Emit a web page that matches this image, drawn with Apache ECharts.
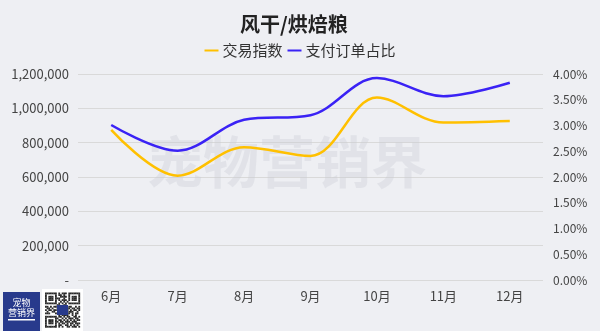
<!DOCTYPE html>
<html>
<head>
<meta charset="utf-8">
<script src="https://cdn.jsdelivr.net/npm/echarts@6/dist/echarts.min.js"></script>
<style>
  html, body { margin: 0; padding: 0; background: #eeeff3; }
  #chart { width: 600px; height: 331px; }
</style>
</head>
<body>
<div id="chart"></div>
<script>
// Monthly data for dried / baked pet food
const months = ['6月', '7月', '8月', '9月', '10月', '11月', '12月'];
const tradeIndex = [875000, 608000, 774000, 723000, 1063000, 917000, 926000];
const payShare = [0.0301, 0.0251, 0.0311, 0.0320, 0.0392, 0.0357, 0.0383];
const leftTicks = { min: 0, max: 1200000, interval: 200000 };
const rightTicks = { min: 0, max: 0.04, interval: 0.005 };

// Small QR-style badge pattern (1 = dark module)
const qrRows = [
  '111111101011101111111',
  '100000101101001000001',
  '101110100111101011101',
  '101110111001001011101',
  '101110101011101011101',
  '100000100101010000001',
  '111111101010101111111',
  '000000011001100000000',
  '110101100111101100101',
  '011010011100011011011',
  '101101100000010101101',
  '010011001111001110010',
  '111000111111011010110',
  '000000001011110010100',
  '111111101101011001101',
  '100000110010101110110',
  '101110101101010101011',
  '101110110110111011100',
  '101110101011010110111',
  '100000101100110101010',
  '111111101010011011101'
];

const chart = echarts.init(document.getElementById('chart'), null, { renderer: 'canvas' });

const qrSize = 35;
const cell = qrSize / qrRows.length;
const qrCells = [];
qrRows.forEach((row, r) => {
  for (let c = 0; c < row.length; c++) {
    if (row[c] === '1') {
      qrCells.push({
        type: 'rect',
        shape: { x: c * cell, y: r * cell, width: cell + 0.15, height: cell + 0.15 },
        style: { fill: '#2a2a2a' }
      });
    }
  }
});

const fontFamily = '"Noto Sans CJK SC", "Noto Sans", sans-serif';

chart.setOption({
  backgroundColor: '#eeeff3',
  title: {
    text: '风干/烘焙粮',
    left: 235,
    top: 9,
    textStyle: { fontSize: 20, fontWeight: 'bold', color: '#222', fontFamily }
  },
  legend: {
    top: 38,
    left: 'center',
    itemWidth: 14,
    itemHeight: 2,
    itemGap: 5,
    icon: 'rect',
    textStyle: { fontSize: 15, color: '#333', fontFamily, padding: [0, 0, 0, -1] },
    data: ['交易指数', '支付订单占比']
  },
  grid: { left: 78, right: 57, top: 74, bottom: 51 },
  xAxis: {
    type: 'category',
    data: months,
    boundaryGap: true,
    axisLine: { show: false },
    axisTick: { show: false },
    axisLabel: { color: '#444', fontSize: 13, margin: 10, fontFamily }
  },
  yAxis: [
    {
      type: 'value',
      min: leftTicks.min,
      max: leftTicks.max,
      interval: leftTicks.interval,
      axisLine: { show: false },
      axisTick: { show: false },
      splitLine: { lineStyle: { color: '#d9d9d9', width: 1 } },
      axisLabel: {
        color: '#444',
        fontSize: 13,
        margin: 9,
        fontFamily,
        formatter: v => v === 0 ? '-' : v.toLocaleString('en-US')
      }
    },
    {
      type: 'value',
      min: rightTicks.min,
      max: rightTicks.max,
      interval: rightTicks.interval,
      axisLine: { show: false },
      axisTick: { show: false },
      splitLine: { show: false },
      axisLabel: {
        color: '#444',
        fontSize: 12,
        margin: 10,
        fontFamily,
        formatter: v => (v * 100).toFixed(2) + '%'
      }
    }
  ],
  series: [
    {
      name: '交易指数',
      type: 'line',
      data: tradeIndex,
      yAxisIndex: 0,
      smooth: 0.35,
      symbol: 'none',
      color: '#ffc000',
      lineStyle: { width: 2.5, color: '#ffc000' },
      z: 3
    },
    {
      name: '支付订单占比',
      type: 'line',
      data: payShare,
      yAxisIndex: 1,
      smooth: 0.35,
      symbol: 'none',
      color: '#3a22f5',
      lineStyle: { width: 2.5, color: '#3a22f5' },
      z: 4
    }
  ],
  graphic: [
    {
      type: 'text',
      left: 147,
      top: 134,
      z: 1,
      style: {
        text: '宠物营销界',
        fontSize: 56,
        fontWeight: 'bold',
        fontFamily,
        fill: 'rgba(200,202,212,0.35)'
      }
    },
    {
      type: 'group',
      left: 3,
      top: 292,
      children: [
        { type: 'rect', shape: { x: 0, y: 0, width: 37, height: 39 }, style: { fill: '#283a8c' } },
        { type: 'text', style: { text: '宠物', x: 18.5, y: 6, fontSize: 9, fill: '#fff', align: 'center', fontFamily } },
        { type: 'text', style: { text: '营销界', x: 18.5, y: 16, fontSize: 9, fill: '#fff', align: 'center', fontFamily } },
        { type: 'rect', shape: { x: 5, y: 27, width: 27, height: 1.5 }, style: { fill: '#ffffff' } }
      ]
    },
    {
      type: 'group',
      left: 42,
      top: 289,
      children: [
        { type: 'rect', shape: { x: 0, y: 0, width: 41, height: 42 }, style: { fill: '#ffffff' } },
        { type: 'group', x: 3, y: 3.5, children: qrCells },
        { type: 'rect', shape: { x: 15, y: 16, width: 11, height: 10 }, style: { fill: '#283a8c' } }
      ]
    }
  ]
});
</script>
</body>
</html>
